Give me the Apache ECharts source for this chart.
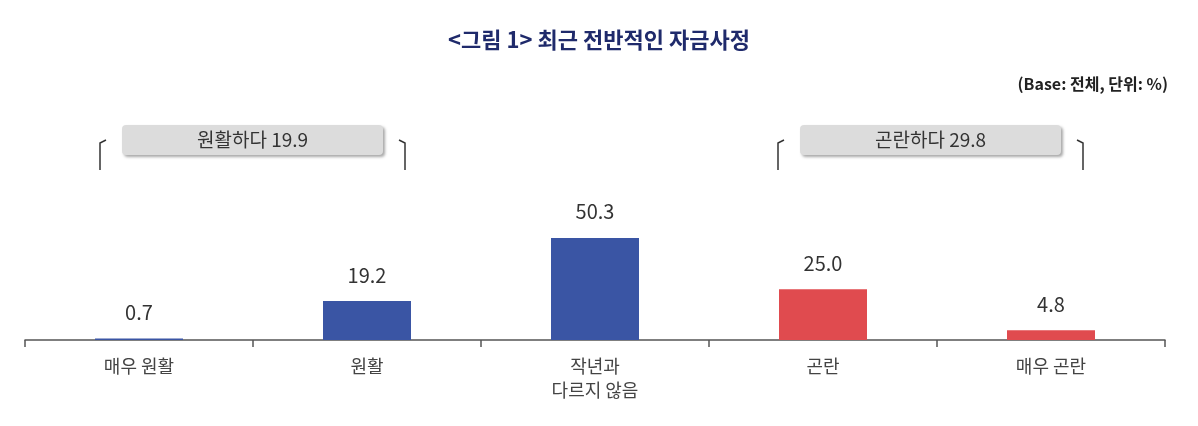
<!DOCTYPE html>
<html><head><meta charset="utf-8">
<script src="https://cdn.jsdelivr.net/npm/echarts@6/dist/echarts.min.js"></script>
<style>body{margin:0;background:#fff}#main{width:1198px;height:426px}</style>
</head><body><div id="main"></div>
<script>
// 카테고리, 값
const categories = ['매우 원활', '원활', '작년과\n다르지 않음', '곤란', '매우 곤란'];
const values = [0.7, 19.2, 50.3, 25.0, 4.8];
const barColors = ['#3a55a4', '#3a55a4', '#3a55a4', '#e04b4f', '#e04b4f'];
const groupLabels = ['원활하다 19.9', '곤란하다 29.8'];

const font = '"Noto Sans CJK KR", "Noto Sans", sans-serif';

function bracket(x1, x2, label) {
    const bw = x2 - x1 - 44;
    return [
        {type: 'polyline', shape: {points: [[x1, 170], [x1, 143], [x1 + 6, 140]]}, style: {stroke: '#333', lineWidth: 1.5, fill: null}},
        {type: 'polyline', shape: {points: [[x2, 170], [x2, 143], [x2 - 6, 140]]}, style: {stroke: '#333', lineWidth: 1.5, fill: null}},
        {type: 'rect', shape: {x: x1 + 22, y: 125, width: bw, height: 30, r: 4},
            style: {fill: '#dcdcdc', shadowBlur: 3, shadowOffsetX: 2, shadowOffsetY: 2, shadowColor: 'rgba(0,0,0,0.35)'}},
        {type: 'text', x: (x1 + x2) / 2, y: 140, style: {text: label, font: '19px ' + font, fill: '#333', align: 'center', verticalAlign: 'middle'}}
    ];
}

const chart = echarts.init(document.getElementById('main'));
chart.setOption({
    title: {
        text: '<그림 1> 최근 전반적인 자금사정', left: 'center', top: 24,
        textStyle: {fontFamily: font, fontSize: 22, fontWeight: 'bold', color: '#1f2a6b'}
    },
    grid: {left: 25, right: 33, top: 137, bottom: 86},
    xAxis: {
        type: 'category', data: categories,
        axisLine: {lineStyle: {color: '#555', width: 1.5}},
        axisTick: {show: true, length: 7, lineStyle: {color: '#555', width: 1.5}},
        axisLabel: {fontFamily: font, fontSize: 18, color: '#444', margin: 14, lineHeight: 24}
    },
    yAxis: {type: 'value', min: 0, max: 100, show: false},
    series: [{
        type: 'bar', barWidth: 88,
        data: values.map((v, i) => ({value: v, itemStyle: {color: barColors[i]}})),
        label: {show: true, position: 'top', distance: 16, fontFamily: font, fontSize: 20, color: '#333',
            formatter: p => p.value.toFixed(1)}
    }],
    graphic: [
        {type: 'text', right: 30, top: 76, style: {text: '(Base: 전체, 단위: %)', font: 'bold 16px ' + font, fill: '#222'}},
        ...bracket(100, 405, groupLabels[0]),
        ...bracket(778, 1083, groupLabels[1])
    ]
});
</script></body></html>
